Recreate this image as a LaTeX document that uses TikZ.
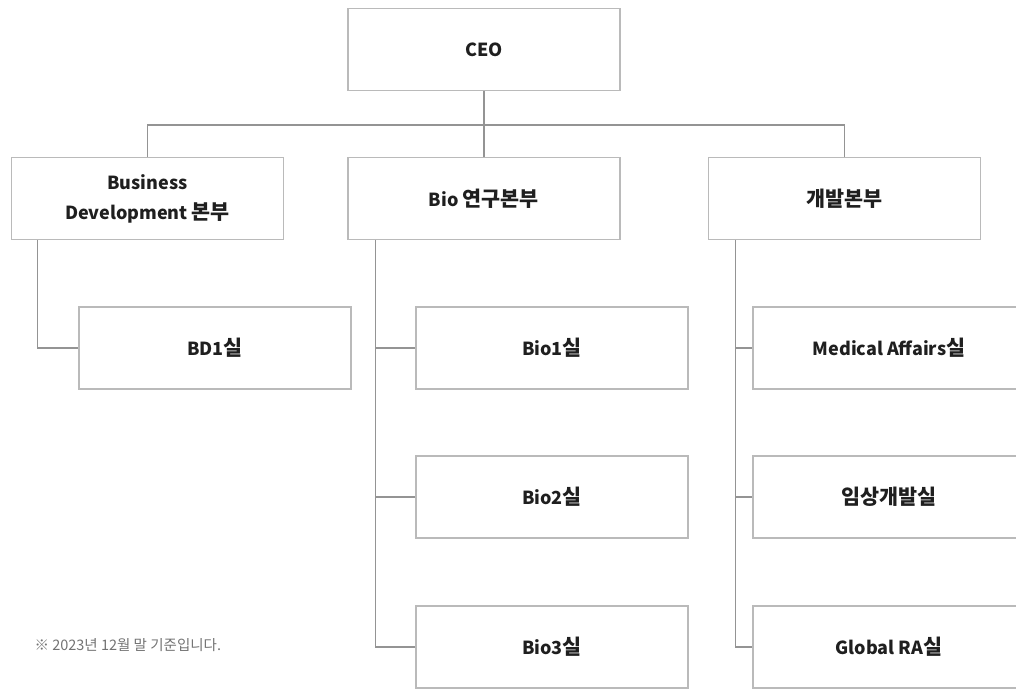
\documentclass[tikz,border=0pt]{standalone}
\usepackage{fontspec}
\setmainfont{Noto Sans CJK KR}
\newfontfamily\krfont{Noto Sans CJK KR}[Scale=1.15]
\newcommand{\kr}[1]{{\krfont #1}}
\begin{document}
\begin{tikzpicture}[x=1pt,y=-1pt,
  unit/.style={draw=black!27,line width=1.4pt,fill=white,minimum width=272pt,minimum height=82pt,
    align=center,font=\fontsize{18}{30}\selectfont\bfseries,text=black!88},
  link/.style={draw=black!42,line width=1.2pt},
  note/.style={font=\fontsize{14.5}{17}\selectfont,text=black!55,anchor=west}]
\useasboundingbox (0,0) rectangle (1016,688);
%%\draw[help lines] (0,0) grid (1016,688);
\node [unit] (ceo) at (484,49.5) {CEO};
\node [unit] (bd) at (147.5,198.5) {Business\\Development \kr{본부}};
\node [unit] (bio) at (484,198.5) {Bio \kr{연구본부}};
\node [unit] (dev) at (844.5,198.5) {\kr{개발본부}};
\node [unit] (bd1) at (215,348) {BD1\kr{실}};
\node [unit] (bio1) at (552,348) {Bio1\kr{실}};
\node [unit] (bio2) at (552,497) {Bio2\kr{실}};
\node [unit] (bio3) at (552,647) {Bio3\kr{실}};
\node [unit] (med) at (889,348) {Medical Affairs\kr{실}};
\node [unit] (clin) at (889,497) {\kr{임상개발실}};
\node [unit] (gra) at (889,647) {Global RA\kr{실}};
\coordinate (bar) at (484,125);
\draw [link] (ceo.south) -- (bar);
\draw [link] (bd.north) |- (bar) -| (dev.north);
\draw [link] (bio.north) -- (bar);
\draw [link] ([xshift=27pt]bd.south west) |- (bd1.west);
\draw [link] ([xshift=28pt]bio.south west) |- (bio3.west);
\draw [link] ([xshift=28pt]bio.south west) |- (bio1.west);
\draw [link] ([xshift=28pt]bio.south west) |- (bio2.west);
\draw [link] ([xshift=28pt]dev.south west) |- (gra.west);
\draw [link] ([xshift=28pt]dev.south west) |- (med.west);
\draw [link] ([xshift=28pt]dev.south west) |- (clin.west);
\node [note] (asof) at (31,645) {※ 2023년 12월 말 기준입니다.};
\end{tikzpicture}
\end{document}
